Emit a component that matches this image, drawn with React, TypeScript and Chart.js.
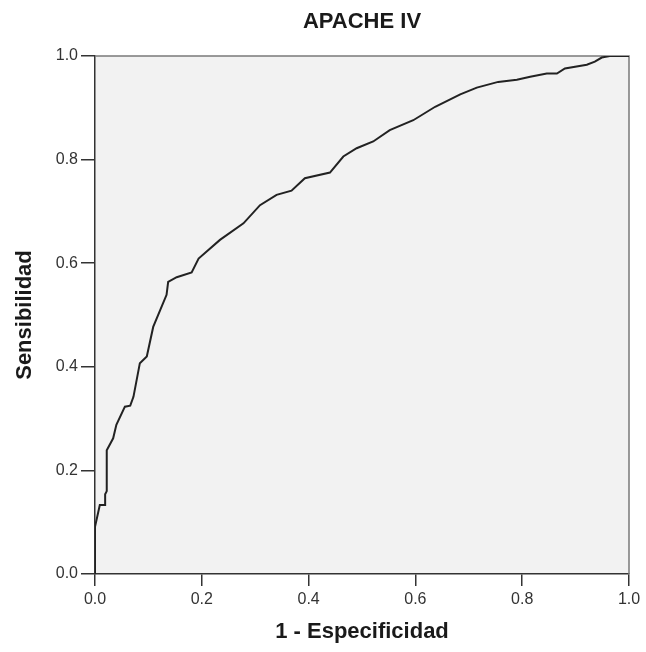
import React, { useEffect, useRef } from "react";
import { Chart, registerables } from "chart.js";

Chart.register(...registerables);

const chartTitle = "APACHE IV";
const xAxisTitle = "1 - Especificidad";
const yAxisTitle = "Sensibilidad";

const fpr = [0, 0, 0.009, 0.019, 0.019, 0.022, 0.022, 0.034, 0.04, 0.056, 0.066, 0.072, 0.084, 0.097, 0.109, 0.134, 0.137, 0.153, 0.181, 0.194, 0.234, 0.278, 0.309, 0.34, 0.368, 0.393, 0.44, 0.465, 0.49, 0.521, 0.552, 0.596, 0.637, 0.684, 0.715, 0.755, 0.79, 0.815, 0.846, 0.865, 0.88, 0.921, 0.936, 0.949, 0.964, 1];
const tpr = [0, 0.091, 0.133, 0.133, 0.154, 0.16, 0.239, 0.262, 0.288, 0.323, 0.325, 0.342, 0.407, 0.42, 0.477, 0.539, 0.564, 0.573, 0.582, 0.609, 0.645, 0.677, 0.712, 0.732, 0.74, 0.764, 0.775, 0.806, 0.822, 0.835, 0.857, 0.876, 0.902, 0.926, 0.939, 0.95, 0.954, 0.96, 0.966, 0.966, 0.976, 0.983, 0.989, 0.997, 1, 1];

const FONT = "'Liberation Sans', Arial, sans-serif";

const bgPlugin = {
  id: "plotBg",
  beforeDraw(chart: any) {
    const { ctx, chartArea } = chart;
    if (!chartArea) return;
    const { left, top, right, bottom } = chartArea;
    ctx.save();
    ctx.fillStyle = "#f2f2f2";
    ctx.fillRect(left, top, right - left, bottom - top);
    ctx.restore();
  },
  beforeDatasetsDraw(chart: any) {
    const { ctx, chartArea } = chart;
    const { left, top, right, bottom } = chartArea;
    ctx.save();
    ctx.strokeStyle = "#7a7a7a";
    ctx.lineWidth = 1.5;
    ctx.beginPath();
    ctx.moveTo(left, top);
    ctx.lineTo(right, top);
    ctx.lineTo(right, bottom);
    ctx.stroke();
    ctx.restore();
  },
};

export default function App() {
  const ref = useRef<HTMLCanvasElement | null>(null);

  useEffect(() => {
    if (!ref.current) return;
    const points = fpr.map((x, i) => ({ x, y: tpr[i] }));
    const chart = new Chart(ref.current, {
      type: "line",
      data: {
        datasets: [
          {
            data: points,
            borderColor: "#222222",
            borderWidth: 2,
            pointRadius: 0,
            tension: 0,
            fill: false,
          },
        ],
      },
      options: {
        animation: false,
        responsive: true,
        maintainAspectRatio: false,
        layout: { padding: { left: 8, right: 17, top: 0, bottom: 2.5 } },
        plugins: {
          legend: { display: false },
          tooltip: { enabled: false },
          title: {
            display: true,
            text: chartTitle,
            fullSize: false,
            color: "#1a1a1a",
            font: { family: FONT, size: 22, weight: "bold" },
            padding: { top: 9.1, bottom: 20.5 },
          },
        },
        scales: {
          x: {
            type: "linear",
            min: 0,
            max: 1,
            afterFit: (s: any) => {
              s.height = 75.5;
            },
            ticks: {
              stepSize: 0.2,
              color: "#333333",
              font: { family: FONT, size: 16 },
              padding: 4,
              maxRotation: 0,
              callback: (v: any) => Number(v).toFixed(1),
            },
            grid: {
              drawOnChartArea: false,
              drawTicks: true,
              tickLength: 12,
              color: "#333333",
              lineWidth: 1.5,
            },
            border: { display: true, color: "#333333", width: 1.5 },
            title: {
              display: true,
              text: xAxisTitle,
              color: "#1a1a1a",
              font: { family: FONT, size: 22, weight: "bold" },
              padding: { top: 4, bottom: 4 },
            },
          },
          y: {
            type: "linear",
            min: 0,
            max: 1,
            afterFit: (s: any) => {
              s.width = 87;
            },
            ticks: {
              stepSize: 0.2,
              color: "#333333",
              font: { family: FONT, size: 16 },
              padding: 3,
              callback: (v: any) => Number(v).toFixed(1),
            },
            grid: {
              drawOnChartArea: false,
              drawTicks: true,
              tickLength: 14,
              color: "#333333",
              lineWidth: 1.5,
            },
            border: { display: true, color: "#333333", width: 1.5 },
            title: {
              display: true,
              text: yAxisTitle,
              color: "#1a1a1a",
              font: { family: FONT, size: 22, weight: "bold" },
              padding: { top: 4, bottom: 4 },
            },
          },
        },
      } as any,
      plugins: [bgPlugin],
    });
    return () => chart.destroy();
  }, []);

  return (
    <div
      style={{
        position: "fixed",
        left: 0,
        top: 0,
        width: 646,
        height: 652,
        background: "#ffffff",
      }}
    >
      <canvas ref={ref} />
    </div>
  );
}
